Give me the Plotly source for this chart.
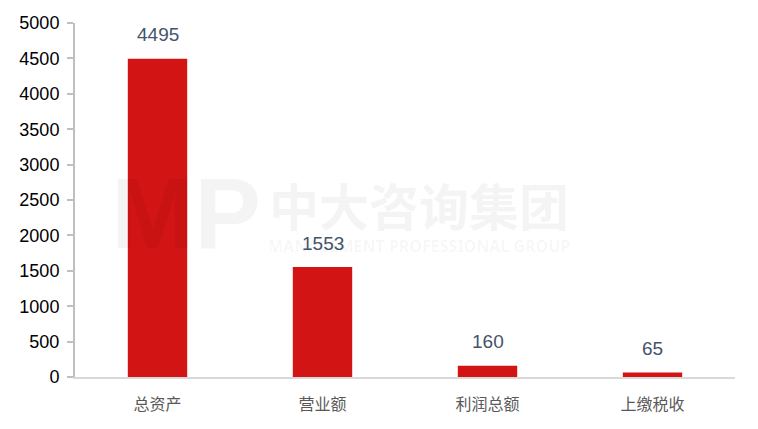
import plotly.graph_objects as go

categories = ["总资产", "营业额", "利润总额", "上缴税收"]
values = [4495, 1553, 160, 65]
y_ticks = [0, 500, 1000, 1500, 2000, 2500, 3000, 3500, 4000, 4500, 5000]

fig = go.Figure()
fig.add_trace(go.Bar(
    x=categories, y=values,
    marker=dict(color="#d31414", line=dict(width=0)),
    width=0.36,
))

for c, v in zip(categories, values):
    fig.add_annotation(x=c, y=v, text=str(v), showarrow=False, yanchor="middle", yshift=24,
                       font=dict(family="Arial", size=19, color="#44546a"))

wm = "rgba(0,0,0,0.045)"
fig.add_annotation(xref="paper", yref="paper", x=0.168, y=0.463, xanchor="center", yanchor="middle",
                   text="<b>MP</b>", showarrow=False,
                   font=dict(family="Arial", size=100, color=wm))
fig.add_annotation(xref="paper", yref="paper", x=0.521, y=0.49, xanchor="center", yanchor="middle",
                   text="<b>中大咨询集团</b>", showarrow=False,
                   font=dict(family="Noto Sans CJK SC", size=50, color=wm))
fig.add_annotation(xref="paper", yref="paper", x=0.521, y=0.37, xanchor="center", yanchor="middle",
                   text="<b>MANAGEMENT PROFESSIONAL GROUP</b>", showarrow=False,
                   font=dict(family="Noto Sans", size=16, color=wm))

fig.update_layout(
    width=758, height=429,
    margin=dict(l=75, r=23, t=23, b=52),
    paper_bgcolor="white", plot_bgcolor="white",
    showlegend=False,
    xaxis=dict(
        showline=True, linecolor="#d9d9d9", linewidth=2,
        ticks="", showgrid=False, ticklabelstandoff=12,
        tickfont=dict(family="Noto Sans CJK SC", size=16, color="#595959"),
    ),
    yaxis=dict(
        range=[0, 5000], tickvals=y_ticks,
        showline=True, linecolor="#bfbfbf", linewidth=2,
        ticks="outside", ticklen=6, tickcolor="#bfbfbf", tickwidth=2,
        showgrid=False, zeroline=False, ticklabelstandoff=4,
        tickfont=dict(family="Arial", size=18, color="#000000"),
    ),
)

fig.write_html("out.html", config={"displayModeBar": False},
               post_script="document.body.style.margin='0';")
